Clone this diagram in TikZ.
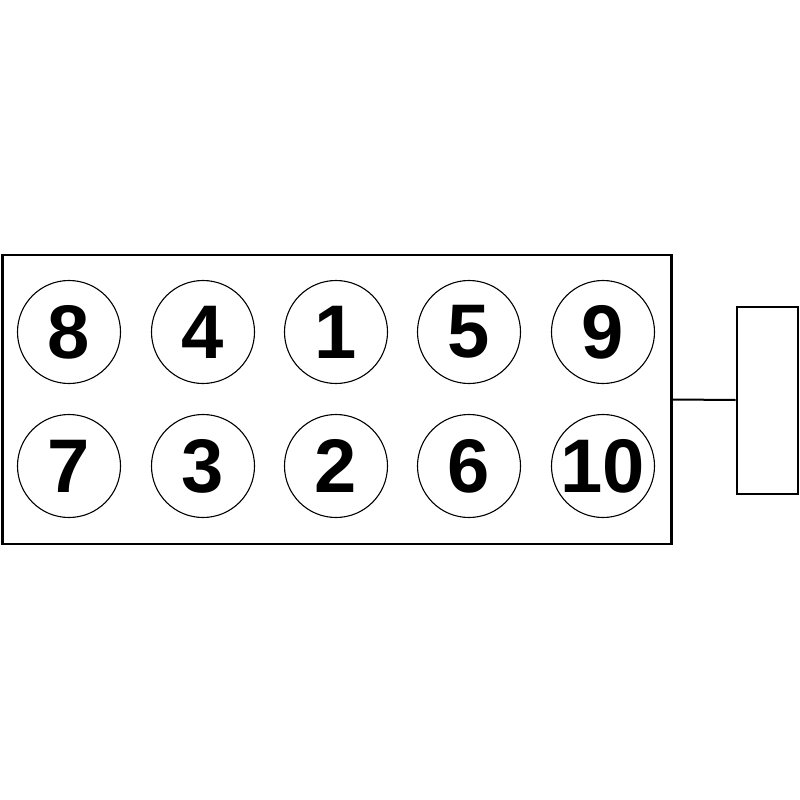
\documentclass[tikz,border=0pt]{standalone}
\usepackage{fontspec}
\setmainfont{Liberation Sans}
\begin{document}
\begin{tikzpicture}[x=1pt,y=-1pt,
  cyl/.style={circle,draw=black,line width=1.1pt,minimum size=103pt,inner sep=0pt,
    font=\fontsize{76}{76}\selectfont\bfseries},
  frame/.style={draw=black,line width=2.4pt,inner sep=0pt},
  conn/.style={draw=black,line width=2pt}]
\useasboundingbox (0,0) rectangle (800,800);
\node[frame,minimum width=669pt,minimum height=289pt] (block) at (337,399.5) {};
\node[frame,line width=2pt,minimum width=61pt,minimum height=187pt] (plug) at (767,400) {};
\foreach \n/\x/\y in {8/69/332,4/203/332,1/336/332,5/469/332,9/603/332,
                      7/69/466,3/203/466,2/336/466,6/469/466,10/603/466}{
  \node[cyl] (c\n) at (\x,\y) {\n};
}
\draw[conn] (block.east) -- (plug.west);
\end{tikzpicture}
\end{document}
